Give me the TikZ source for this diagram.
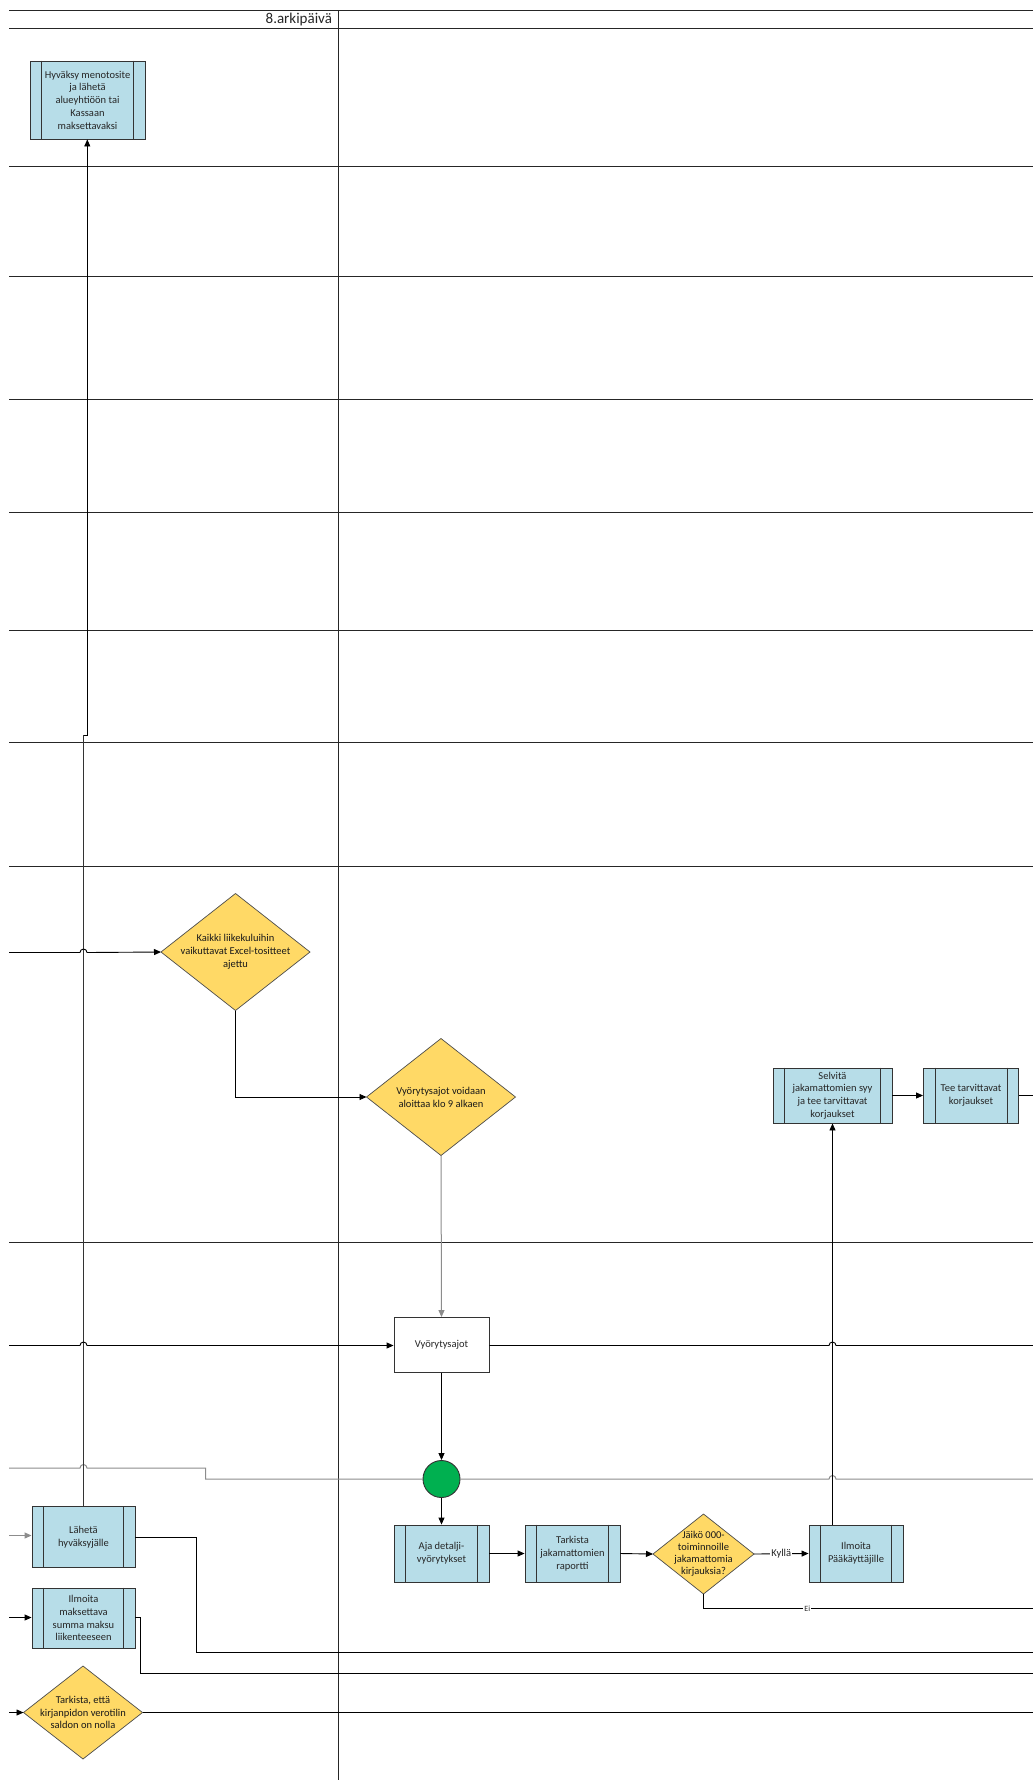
\documentclass[tikz,border=0pt]{standalone}
\usepackage{fontspec}
\setmainfont{Carlito}
\usetikzlibrary{arrows.meta,calc}
\definecolor{procblue}{HTML}{B7DDE8}
\definecolor{diayellow}{HTML}{FFD966}
\definecolor{startgreen}{HTML}{00B050}
\newcommand\bxf{\fontsize{10.5}{12.8}\selectfont}
\pgfdeclarelayer{lanes}
\pgfdeclarelayer{shapes}
\pgfsetlayers{lanes,shapes,main}
\tikzset{
  lane/.style={draw=black!85, line width=1pt},
  conn/.style={draw=black, line width=0.9pt},
  greyconn/.style={draw=black!45, line width=1pt},
  arr/.style={conn, -{Triangle[length=7pt,width=6pt]}},
  greyarr/.style={greyconn, -{Triangle[length=7pt,width=6pt]}},
  proc/.style={rectangle, draw=black!80, line width=0.9pt, fill=procblue,
    font=\bxf, text=black!85, align=center, inner sep=0pt,
    append after command={
      ([xshift=12pt]\tikzlastnode.north west) edge[draw=black!80, line width=0.9pt] ([xshift=12pt]\tikzlastnode.south west)
      ([xshift=-12pt]\tikzlastnode.north east) edge[draw=black!80, line width=0.9pt] ([xshift=-12pt]\tikzlastnode.south east)}},
  plainbox/.style={rectangle, draw=black!80, line width=0.9pt, fill=white,
    font=\bxf, text=black!85, align=center, inner sep=0pt},
  diaholder/.style={rectangle, inner sep=0pt, outer sep=0pt, font=\bxf,
    text=black!90, align=center},
  diashape/.style={fill=diayellow, draw=black!70, line width=0.7pt},
  lbl/.style={fill=white, inner sep=1pt, font=\bxf, text=black!85},
}
\begin{document}
\begin{tikzpicture}[x=1pt, y=-1pt]
\useasboundingbox (0,0) rectangle (1033,1780);

% ---------- nodes ----------
\node[anchor=east, font=\fontsize{15}{18}\selectfont, text=black!85] (hdr) at (335.5,19.5) {8.arkipäivä};

\node[proc, minimum width=115pt, minimum height=78pt] (hyv) at (87.5,100)
  {Hyväksy menotosite\\ja lähetä\\alueyhtiöön tai\\Kassaan\\maksettavaksi};

\node[diaholder, minimum width=149pt, minimum height=117pt] (kaikki) at (235.5,952)
  {Kaikki liikekuluihin\\vaikuttavat Excel-tositteet\\ajettu};
\node[diaholder, minimum width=149pt, minimum height=117pt] (vd) at (441,1097)
  {Vyörytysajot voidaan\\aloittaa klo 9 alkaen};

\node[proc, minimum width=119pt, minimum height=55pt] (sel) at (832.5,1095.5)
  {Selvitä\\jakamattomien syy\\ja tee tarvittavat\\korjaukset};
\node[proc, minimum width=95pt, minimum height=55pt] (tee) at (971,1095.5)
  {Tee tarvittavat\\korjaukset};

\node[plainbox, minimum width=95pt, minimum height=55pt] (va) at (441.5,1345) {Vyörytysajot};

\node[circle, fill=startgreen, draw=black!80, line width=0.9pt, minimum size=37pt, inner sep=0pt] (gc) at (441.5,1479) {};

\node[proc, minimum width=95pt, minimum height=57pt] (aja) at (441.5,1553.5) {Aja detalji-\\vyörytykset};
\node[proc, minimum width=95pt, minimum height=57pt] (tj) at (572.5,1553.5) {Tarkista\\jakamattomien\\raportti};
\node[diaholder, minimum width=101pt, minimum height=80pt, font=\fontsize{10.5}{12}\selectfont] (jk) at (703.5,1554)
  {Jäikö 000-\\toiminnoille\\jakamattomia\\kirjauksia?};
\node[proc, minimum width=94pt, minimum height=57pt] (ip) at (856,1553.5) {Ilmoita\\Pääkäyttäjille};

\node[proc, minimum width=103pt, minimum height=61pt] (lah) at (83.5,1537) {Lähetä\\hyväksyjälle};
\node[proc, minimum width=103pt, minimum height=60pt] (ilm) at (83.5,1618) {Ilmoita\\maksettava\\summa maksu\\liikenteeseen};
\node[diaholder, minimum width=119pt, minimum height=93pt] (tark) at (83,1712.5)
  {Tarkista, että\\kirjanpidon verotilin\\saldon on nolla};

% ---------- diamond shapes ----------
\begin{pgfonlayer}{shapes}
  \foreach \d in {kaikki,vd,jk,tark}{
    \filldraw[diashape] (\d.north) -- (\d.east) -- (\d.south) -- (\d.west) -- cycle;
  }
\end{pgfonlayer}

% ---------- lanes ----------
\begin{pgfonlayer}{lanes}
  \foreach \yy in {10.5,28.5,166.5,276.5,399.5,512.5,630.5,742.5,866.5,1242.5}{
    \draw[lane] (9,\yy) -- (1033,\yy);
  }
  \draw[lane] (338.5,10.5) -- (338.5,1780);
  % grey connector through the green circle
  \draw[greyconn] (9,1468) -- (80,1468) arc[start angle=180,end angle=360,radius=3.5]
     -- (205.6,1468) -- (205.6,1479) -- (gc.west);
  \draw[greyconn] (gc.east) -- (829,1479) arc[start angle=180,end angle=360,radius=3.5] -- (1033,1479);
\end{pgfonlayer}

% ---------- connectors ----------
\coordinate (j1) at (83.5,735.3);
\coordinate (j2) at (87.3,735.3);
\draw[conn, draw=black!80] (lah.north -| j1) -- (j1);
\draw[arr] (j1) -- (j2) -- (hyv.south -| j2);

\coordinate (inK) at (9,952.5);
\draw[arr] (inK) -- (80,952.5) arc[start angle=180,end angle=360,radius=3.5] -- (kaikki.west);
\draw[arr] (kaikki.south) |- (vd.west);
\draw[greyarr] (vd.south) -- (va.north);

\coordinate (inV) at (9,1345.5);
\draw[arr] (inV) -- (80,1345.5) arc[start angle=180,end angle=360,radius=3.5] -- (va.west |- inV);
\coordinate (outV) at (1033,1345.5);
\draw[conn] (va.east |- outV) -- (829,1345.5) arc[start angle=180,end angle=360,radius=3.5] -- (outV);

\draw[arr] (va.south) -- (gc.north);
\draw[arr] (gc.south) -- (aja.north);
\draw[arr] (aja.east) -- (tj.west);
\draw[arr] (tj.east) -- (jk.west);
\draw[arr] (jk.east) -- node[lbl] {Kyllä} (ip.west);
\draw[arr] (sel.south |- ip.north) -- (sel.south);
\draw[arr] (sel.east) -- (tee.west);
\coordinate (outT) at (1033,1095.5);
\draw[conn] (tee.east) -- (outT);

\coordinate (eiC) at (703.5,1608.5);
\coordinate (outE) at (1033,1608.5);
\draw[conn] (jk.south) -- (eiC) -- node[lbl, pos=0.315, font=\fontsize{8}{9}\selectfont] {Ei} (outE);

\coordinate (inL) at (9,1535.5);
\draw[greyarr] (inL) -- (lah.west |- inL);
\coordinate (outL) at (1033,1652.5);
\draw[conn] (lah.east) -- (196,1537) -- (196,1652.5) -- (outL);

\coordinate (inI) at (9,1617.5);
\draw[arr] (inI) -- (ilm.west |- inI);
\coordinate (outI) at (1033,1673.5);
\draw[conn] (ilm.east |- inI) -- (140,1617.5) -- (140,1673.5) -- (outI);

\coordinate (inT) at (9,1712.5);
\draw[arr] (inT) -- (tark.west);
\coordinate (outTa) at (1033,1712.5);
\draw[conn] (tark.east) -- (outTa);
\end{tikzpicture}
\end{document}
